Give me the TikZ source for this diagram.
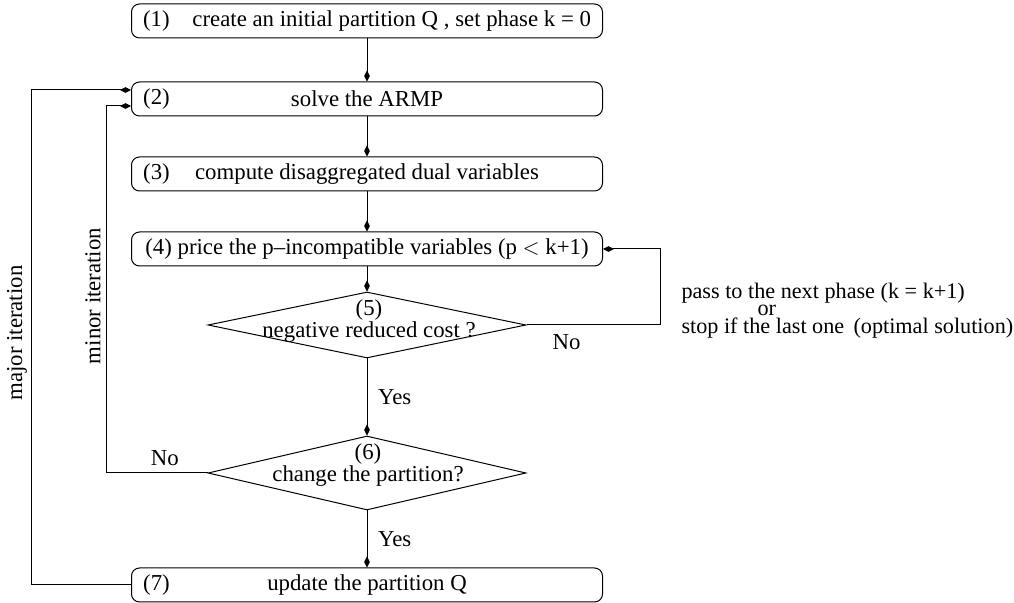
\documentclass[tikz,border=0pt]{standalone}
\usepackage{fontspec}
\setmainfont{Liberation Serif}
\usetikzlibrary{shapes.geometric,arrows.meta}

\begin{document}
\begin{tikzpicture}[x=0.5pt, y=-0.5pt, line width=0.5pt, font=\fontsize{11.4}{9.5}\selectfont,
    >={Diamond[length=5.5pt,width=2.8pt]}]
    \tikzstyle{box} = [rectangle, draw, rounded corners=4pt, minimum width=235.5pt, minimum height=17pt, inner sep=0pt]
    \tikzstyle{test} = [diamond, draw, minimum width=159pt, inner sep=0pt]
    \tikzstyle{txt} = [inner sep=0pt, align=center]

    \useasboundingbox (0,0) rectangle (1014,603);

    \node[box] (a) at (367, 21) {(1)\quad create an initial partition Q , set phase k = 0};
    \node[box, label={[anchor=west, xshift=2.5pt]west:(2)}] (b) at (367, 99) {solve the ARMP\hspace{18pt}};
    \node[box, label={[anchor=west, xshift=2.5pt]west:(3)}] (c) at (367, 174) {compute disaggregated dual variables};
    \node[box] (d) at (367, 249) {(4) price the p--incompatible variables (p $<$ k+1)\hspace{8pt}};

    \node[test, minimum height=33pt] (e) at (367, 325) {};
    \node[txt] (e1) at (369, 321) {(5)\\negative reduced cost ?};
    \node[test, minimum height=37pt] (f) at (367, 473) {};
    \node[txt] (f1) at (368, 465) {(6)\\change the partition?};

    \node[box, label={[anchor=west, xshift=2.5pt]west:(7)}] (g) at (367, 585) {update the partition Q};

    \node[anchor=west, align=left, font=\fontsize{11.1}{7}\selectfont, inner sep=0pt] (r1) at (681, 311)
        {pass to the next phase (k = k+1)\\\hspace{38pt}or\\stop if the last one\ \,(optimal solution)};

    \coordinate (r) at (660, 325);
    \coordinate (m) at (106, 473);
    \coordinate (n) at (31, 585);

    \draw [->] (a) -- (b);
    \draw [->] (b) -- (c);
    \draw [->] (c) -- (d);
    \draw [->] (d) -- (e);
    \draw [->] (e) -- node[right, xshift=2pt] {Yes} (f);
    \draw [->] (f) -- node[right, xshift=2pt] {Yes} (g);

    \draw [->] (e.east) -- node[pos=0.3, below, yshift=-1pt] {No} (r) |- (d.east);
    \draw [->] (f.west) -- node[pos=0.42, above] {No} (m) |- ([yshift=-3.5pt]b.west);
    \draw [->] (g.west) -- (n) |- ([yshift=4.5pt]b.west);

    \node[rotate=90, inner sep=0pt] (mi) at (93, 296) {minor iteration};
    \node[rotate=90, inner sep=0pt] (ma) at (17, 333) {major iteration};
\end{tikzpicture}
\end{document}
